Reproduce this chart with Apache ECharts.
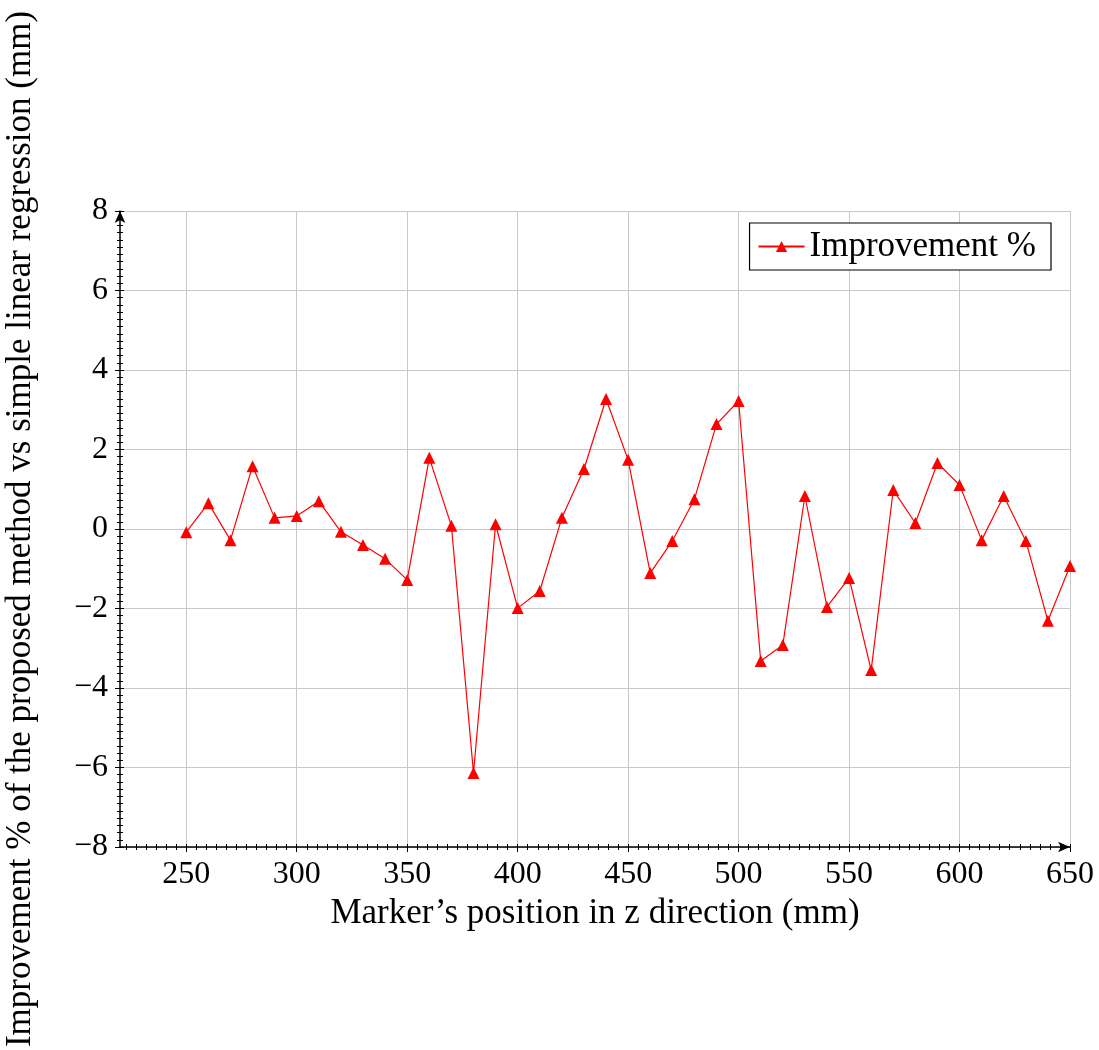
<!DOCTYPE html>
<html><head><meta charset="utf-8">
<script src="https://cdn.jsdelivr.net/npm/echarts@6/dist/echarts.min.js"></script>
<style>html,body{margin:0;padding:0;background:#fff}#c{width:1099px;height:1050px}</style>
</head><body><div id="c"></div>
<script>
const positions = [250,260,270,280,290,300,310,320,330,340,350,360,370,380,390,400,410,420,430,440,450,460,470,480,490,500,510,520,530,540,550,560,570,580,590,600,610,620,630,640,650];
const improvement = [-0.08,0.65,-0.28,1.58,0.28,0.33,0.70,-0.07,-0.40,-0.75,-1.28,1.79,0.08,-6.14,0.12,-1.99,-1.56,0.28,1.51,3.27,1.74,-1.11,-0.30,0.75,2.64,3.22,-3.32,-2.92,0.83,-1.96,-1.23,-3.55,0.98,0.15,1.66,1.11,-0.28,0.83,-0.30,-2.31,-0.93];
const xTicks = [250,300,350,400,450,500,550,600,650];
const yTicks = [-8,-6,-4,-2,0,2,4,6,8];
const seriesName = 'Improvement %';
const xTitle = 'Marker\u2019s position in z direction (mm)';
const yTitle = 'Improvement % of the proposed method vs simple linear regression (mm)';

const FONT = '"Liberation Serif", "DejaVu Serif", serif';
const X_MIN = 220, X_MAX = 650, Y_MIN = -8, Y_MAX = 8;
// minor ticks: 10 between majors (11 intervals), extending left of first major
const xMinor = [];
for (let k = -6; k <= 88; k++) { const v = 250 + k * 50 / 11; if (v >= X_MIN && v <= X_MAX + 1e-9) xMinor.push(+v.toFixed(6)); }

const chart = echarts.init(document.getElementById('c'), null, {renderer:'canvas'});
const data = positions.map((x,i)=>[x, improvement[i]]);
const tickStyle = {color:'#000', width:1};
const hiddenAxisBase = {axisLabel:{show:false}, axisLine:{show:false, onZero:false}, splitLine:{show:false}};
chart.setOption({
  animation:false,
  backgroundColor:'#fff',
  textStyle:{fontFamily:FONT},
  grid:{left:120, right:29, top:211, bottom:203, containLabel:false, outerBoundsMode:'none'},
  legend:{
    show:true, right:48, top:223, orient:'vertical',
    backgroundColor:'#fff', borderColor:'#000', borderWidth:1.2, borderRadius:0,
    padding:[6,15,6,8], itemWidth:46, itemHeight:14, itemGap:0,
    textStyle:{fontFamily:FONT, fontSize:35, color:'#000'},
    data:[seriesName]
  },
  xAxis:[{
    type:'value', min:X_MIN, max:X_MAX, position:'bottom',
    axisLabel:{customValues:xTicks, fontSize:32, color:'#000', fontFamily:FONT, margin:12},
    axisLine:{show:true, lineStyle:{color:'#000', width:1.5}, symbol:['none','arrow'], symbolSize:[8,12], onZero:false},
    axisTick:{show:true, customValues:xTicks, inside:false, length:5, lineStyle:tickStyle},
    minorTick:{show:false},
    splitLine:{show:true, lineStyle:{color:'#c8c8c8', width:1}},
    name:xTitle, nameLocation:'middle', nameGap:48,
    nameTextStyle:{fontSize:35, color:'#000', fontFamily:FONT}
  },Object.assign({
    type:'value', min:X_MIN, max:X_MAX, position:'bottom',
    axisTick:{show:true, customValues:xMinor, inside:true, length:3, lineStyle:tickStyle}
  }, hiddenAxisBase), Object.assign({
    type:'value', min:X_MIN, max:X_MAX, position:'bottom',
    axisTick:{show:true, customValues:xMinor, inside:false, length:3, lineStyle:tickStyle}
  }, hiddenAxisBase)],
  yAxis:[{
    type:'value', min:Y_MIN, max:Y_MAX, position:'left',
    axisLabel:{customValues:yTicks, fontSize:32, color:'#000', fontFamily:FONT, margin:12,
      formatter:v=> v<0 ? '\u2212'+Math.abs(v) : String(v)},
    axisLine:{show:true, lineStyle:{color:'#000', width:1.5}, symbol:['none','arrow'], symbolSize:[8,12], onZero:false},
    axisTick:{show:true, customValues:yTicks, inside:false, length:5, lineStyle:tickStyle},
    minorTick:{show:false},
    splitLine:{show:true, lineStyle:{color:'#c8c8c8', width:1}},
    name:yTitle, nameLocation:'middle', nameGap:82,
    nameTextStyle:{fontSize:35, color:'#000', fontFamily:FONT}
  },Object.assign({
    type:'value', min:Y_MIN, max:Y_MAX, interval:2, position:'left',
    axisTick:{show:true, inside:true, length:4, lineStyle:tickStyle},
    minorTick:{show:true, splitNumber:11, length:3, lineStyle:tickStyle}
  }, hiddenAxisBase), Object.assign({
    type:'value', min:Y_MIN, max:Y_MAX, interval:2, position:'left',
    axisTick:{show:false},
    minorTick:{show:true, splitNumber:11, length:3, lineStyle:tickStyle}
  }, hiddenAxisBase)],
  series:[{
    name:seriesName, type:'line', data:data, xAxisIndex:0, yAxisIndex:0,
    symbol:'triangle', symbolSize:12, showAllSymbol:true,
    lineStyle:{color:'#ff0000', width:1.2},
    itemStyle:{color:'#ff0000', borderWidth:0},
    z:5
  }]
});
</script></body></html>
